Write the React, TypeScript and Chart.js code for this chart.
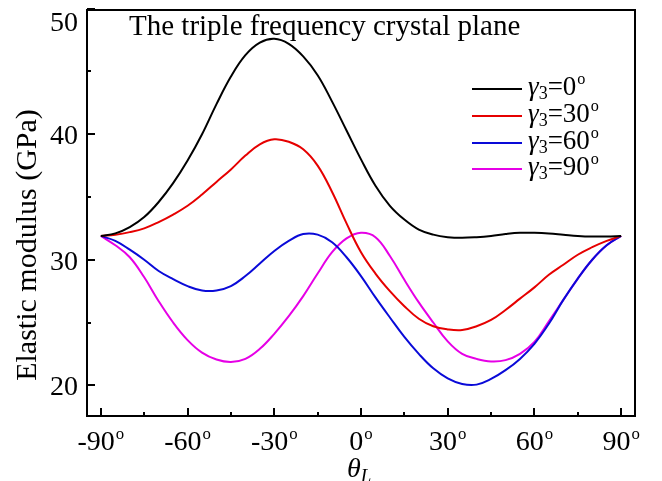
import React, { useEffect, useRef } from "react";
import { Chart, registerables } from "chart.js";

Chart.register(...registerables);

const THETA = [-90, -85, -80, -75, -70, -65, -60, -55, -50, -45, -40, -35, -30, -25, -20, -15, -10, -5, 0, 5, 10, 15, 20, 25, 30, 35, 40, 45, 50, 55, 60, 65, 70, 75, 80, 85, 90];

const GAMMA0 = [31.9, 32.1, 32.6, 33.4, 34.6, 36.1, 37.9, 40.0, 42.4, 44.6, 46.3, 47.3, 47.6, 47.2, 46.2, 44.7, 42.6, 40.3, 38.0, 35.9, 34.3, 33.2, 32.4, 32.0, 31.8, 31.75, 31.8, 31.9, 32.05, 32.15, 32.15, 32.1, 32.0, 31.9, 31.85, 31.85, 31.9];
const GAMMA30 = [31.9, 32.0, 32.2, 32.5, 33.0, 33.6, 34.3, 35.2, 36.2, 37.2, 38.3, 39.2, 39.6, 39.4, 38.8, 37.5, 35.4, 32.9, 30.6, 28.9, 27.5, 26.3, 25.3, 24.7, 24.45, 24.4, 24.7, 25.2, 26.0, 26.9, 27.8, 28.8, 29.6, 30.4, 31.0, 31.5, 31.9];
const GAMMA60 = [31.9, 31.5, 30.8, 30.0, 29.1, 28.45, 27.9, 27.55, 27.55, 27.9, 28.7, 29.7, 30.7, 31.5, 32.05, 32.0, 31.4, 30.2, 28.7, 27.0, 25.4, 23.85, 22.5, 21.35, 20.55, 20.1, 20.05, 20.5, 21.2, 22.1, 23.3, 24.9, 26.8, 28.5, 30.0, 31.15, 31.9];
const GAMMA90 = [31.9, 31.15, 30.2, 28.6, 26.7, 25.0, 23.6, 22.6, 22.05, 21.85, 22.1, 22.9, 24.1, 25.5, 27.1, 28.9, 30.6, 31.7, 32.15, 31.8, 30.3, 28.4, 26.6, 25.0, 23.5, 22.5, 22.1, 21.9, 22.0, 22.5, 23.45, 25.1, 26.8, 28.5, 30.0, 31.15, 31.9];

const SERIES_NAMES = ["0", "30", "60", "90"];
const SERIES_COLORS = ["#000000", "#e60000", "#0a0ad8", "#e600e6"];

const X_MAJOR = [-90, -60, -30, 0, 30, 60, 90];
const X_MINOR = [-75, -45, -15, 15, 45, 75];
const Y_MAJOR = [20, 30, 40, 50];
const Y_MINOR = [25, 35, 45];

const TITLE = "The triple frequency crystal plane";
const Y_TITLE = "Elastic modulus (GPa)";

const SERIF = '"Liberation Serif", "Times New Roman", serif';

function drawWithSupO(ctx: CanvasRenderingContext2D, text: string, x: number, baseline: number, size: number, align: "center" | "left") {
  ctx.font = `${size}px ${SERIF}`;
  const w1 = ctx.measureText(text).width;
  const small = size * 0.6;
  ctx.font = `${small}px ${SERIF}`;
  const w2 = ctx.measureText("o").width;
  const total = w1 + w2 + 1;
  const start = align === "center" ? x - total / 2 : x;
  ctx.textAlign = "left";
  ctx.textBaseline = "alphabetic";
  ctx.font = `${size}px ${SERIF}`;
  ctx.fillText(text, start, baseline);
  ctx.font = `${small}px ${SERIF}`;
  ctx.fillText("o", start + w1 + 1, baseline - size * 0.39);
  return total;
}

const axesPlugin = {
  id: "customAxes",
  afterDatasetsDraw(chart: any) {
    const { ctx, chartArea: a, scales } = chart;
    const xs = scales.x;
    const ys = scales.y;
    ctx.save();
    ctx.fillStyle = "#000";
    ctx.strokeStyle = "#000";
    ctx.lineWidth = 2;
    ctx.strokeRect(a.left, a.top, a.right - a.left, a.bottom - a.top);
    ctx.beginPath();
    X_MAJOR.forEach((v) => {
      const p = Math.round(xs.getPixelForValue(v));
      ctx.moveTo(p, a.bottom);
      ctx.lineTo(p, a.bottom - 8);
    });
    X_MINOR.forEach((v) => {
      const p = Math.round(xs.getPixelForValue(v));
      ctx.moveTo(p, a.bottom);
      ctx.lineTo(p, a.bottom - 4);
    });
    Y_MAJOR.forEach((v) => {
      const p = Math.round(ys.getPixelForValue(v));
      ctx.moveTo(a.left, p);
      ctx.lineTo(a.left + 8, p);
    });
    Y_MINOR.forEach((v) => {
      const p = Math.round(ys.getPixelForValue(v));
      ctx.moveTo(a.left, p);
      ctx.lineTo(a.left + 4, p);
    });
    ctx.stroke();

    X_MAJOR.forEach((v) => {
      const p = xs.getPixelForValue(v);
      drawWithSupO(ctx, String(v), p, a.bottom + 34, 28, "center");
    });
    ctx.font = `28px ${SERIF}`;
    ctx.textAlign = "right";
    ctx.textBaseline = "alphabetic";
    Y_MAJOR.forEach((v) => {
      const p = Math.max(ys.getPixelForValue(v), a.top + 11);
      ctx.fillText(String(v), a.left - 9, p + 10);
    });

    ctx.save();
    ctx.translate(36, 245);
    ctx.rotate(-Math.PI / 2);
    ctx.textAlign = "center";
    ctx.textBaseline = "alphabetic";
    ctx.font = `30px ${SERIF}`;
    ctx.fillText(Y_TITLE, 0, 0);
    ctx.restore();

    ctx.textAlign = "left";
    ctx.font = `italic 28px ${SERIF}`;
    const thW = ctx.measureText("θ").width;
    ctx.fillText("θ", 347, 477);
    ctx.font = `italic 19px ${SERIF}`;
    ctx.fillText("L", 347 + thW, 482);

    ctx.font = `29px ${SERIF}`;
    ctx.fillText(TITLE, 129, 35);

    const rows = [89, 116, 143, 169];
    SERIES_NAMES.forEach((name, i) => {
      const yy = rows[i];
      ctx.strokeStyle = SERIES_COLORS[i];
      ctx.lineWidth = 2;
      ctx.beginPath();
      ctx.moveTo(472, yy);
      ctx.lineTo(522, yy);
      ctx.stroke();
      ctx.fillStyle = "#000";
      ctx.textAlign = "left";
      ctx.font = `italic 27px ${SERIF}`;
      let xx = 528;
      ctx.fillText("γ", xx, yy + 6);
      xx += ctx.measureText("γ").width;
      ctx.font = `18px ${SERIF}`;
      ctx.fillText("3", xx, yy + 10);
      xx += ctx.measureText("3").width;
      drawWithSupO(ctx, "=" + name, xx, yy + 6, 27, "left");
    });
    ctx.restore();
  },
};

export default function App() {
  const ref = useRef<HTMLCanvasElement | null>(null);
  useEffect(() => {
    if (!ref.current) return;
    const series = [GAMMA0, GAMMA30, GAMMA60, GAMMA90];
    const chart = new Chart(ref.current, {
      type: "line",
      data: {
        datasets: series.map((s, i) => ({
          label: "γ3=" + SERIES_NAMES[i] + "º",
          data: THETA.map((t, j) => ({ x: t, y: s[j] })),
          borderColor: SERIES_COLORS[i],
          borderWidth: 2,
          pointRadius: 0,
          fill: false,
          tension: 0.4,
        })),
      },
      options: {
        animation: false,
        responsive: false,
        layout: { padding: { left: 87, top: 10, right: 27, bottom: 65 } },
        plugins: { legend: { display: false }, tooltip: { enabled: false } },
        scales: {
          x: { type: "linear", min: -94.8, max: 94.8, display: false },
          y: { type: "linear", min: 17.55, max: 49.9, display: false },
        },
      },
      plugins: [axesPlugin],
    });
    return () => chart.destroy();
  }, []);
  return (
    <div style={{ position: "fixed", left: 0, top: 0, width: 662, height: 481, background: "#fff" }}>
      <canvas ref={ref} width={662} height={481} style={{ display: "block" }} />
    </div>
  );
}
